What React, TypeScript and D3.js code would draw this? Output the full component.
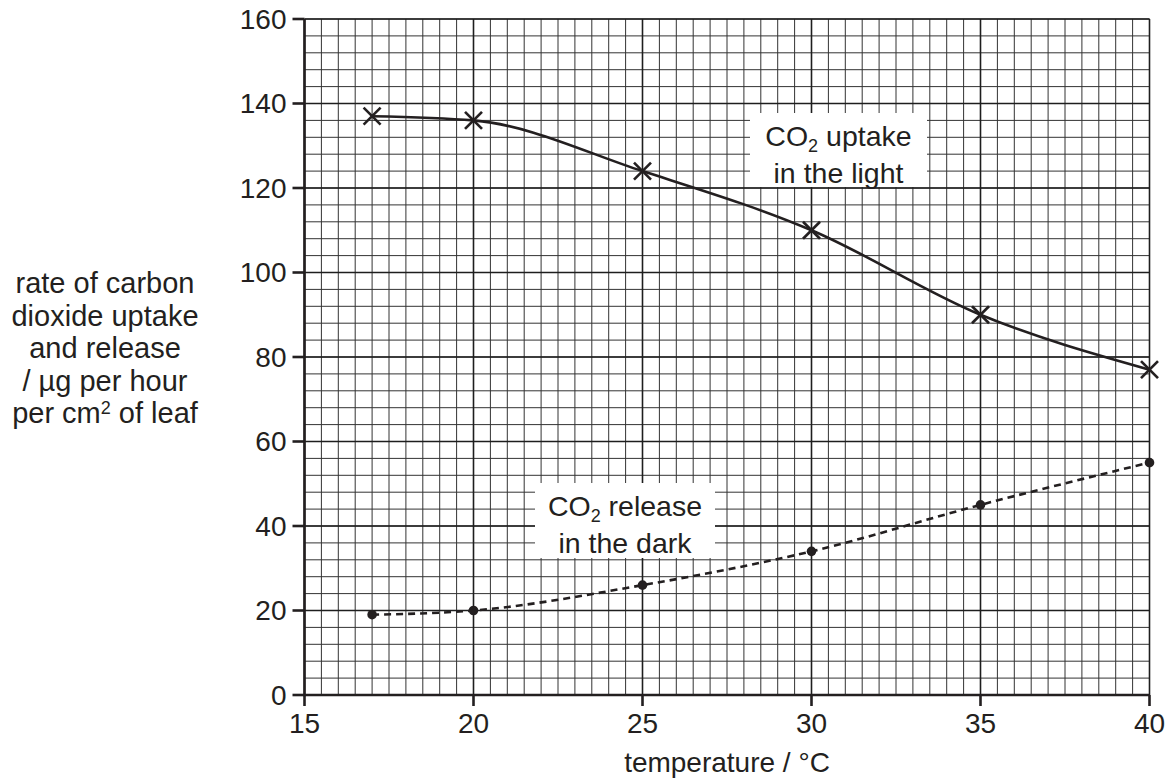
import React from "react";
import * as d3 from "d3";

const temperatures = [17, 20, 25, 30, 35, 40];
const uptakeLight = [137, 136, 124, 110, 90, 77];
const releaseDark = [19, 20, 26, 34, 45, 55];
const xTicks = [15, 20, 25, 30, 35, 40];
const yTicks = [0, 20, 40, 60, 80, 100, 120, 140, 160];
const yTitleLines = ["rate of carbon", "dioxide uptake", "and release", "/ \u00b5g per hour"];

const W = 1175;
const H = 784;
const INK = "#231f20";
const FONT = "'Liberation Sans', Arial, sans-serif";

export default function App() {
  const x = d3.scaleLinear().domain([15, 40]).range([304.5, 1149.5]);
  const y = d3.scaleLinear().domain([0, 160]).range([695, 19]);

  const minorX = d3.range(15, 40.001, 0.5);
  const minorY = d3.range(0, 160.001, 4);

  const lineGen = d3
    .line<number>()
    .x((_, i) => x(temperatures[i]))
    .y((d) => y(d))
    .curve(d3.curveMonotoneX);

  const lightPath = lineGen(uptakeLight) || "";
  const darkPath = lineGen(releaseDark) || "";

  const [x0, x1] = x.range();
  const [y0, y1] = y.range();
  const cs = 8.5;

  return (
    <svg
      width={W}
      height={H}
      viewBox={`0 0 ${W} ${H}`}
      style={{ position: "absolute", left: 0, top: 0, background: "#fff" }}
      fontFamily={FONT}
    >
      <rect x={0} y={0} width={W} height={H} fill="#fff" />
      {/* minor grid */}
      <g stroke="#333" strokeWidth={1}>
        {minorX.map((v) => (
          <line key={"mx" + v} x1={x(v)} x2={x(v)} y1={y0} y2={y1} />
        ))}
        {minorY.map((v) => (
          <line key={"my" + v} x1={x0} x2={x1} y1={y(v)} y2={y(v)} />
        ))}
      </g>
      {/* major grid */}
      <g stroke="#1e1e1e" strokeWidth={1.6}>
        {xTicks.map((v) => (
          <line key={"Mx" + v} x1={x(v)} x2={x(v)} y1={y0} y2={y1} />
        ))}
        {yTicks.map((v) => (
          <line key={"My" + v} x1={x0} x2={x1} y1={y(v)} y2={y(v)} />
        ))}
      </g>

      {/* label boxes */}
      <rect x={750} y={113} width={177} height={74} fill="#fff" />
      <rect x={535} y={483} width={180} height={75} fill="#fff" />

      {/* axes */}
      <g stroke={INK} strokeWidth={2.6}>
        <line x1={x0} x2={x0} y1={y0 + 1.3} y2={y1} />
        <line x1={x0} x2={x1} y1={y0} y2={y0} />
        {yTicks.map((v) => (
          <line key={"yt" + v} x1={x0 - 12} x2={x0} y1={y(v)} y2={y(v)} />
        ))}
        {xTicks.map((v) => (
          <line key={"xt" + v} x1={x(v)} x2={x(v)} y1={y0} y2={y0 + 11} />
        ))}
      </g>

      {/* tick labels */}
      <g fill={INK} fontSize={28}>
        {yTicks.map((v) => (
          <text key={"yl" + v} x={x0 - 18} y={y(v)} textAnchor="end" dominantBaseline="central">
            {v}
          </text>
        ))}
        {xTicks.map((v) => (
          <text key={"xl" + v} x={x(v)} y={733} textAnchor="middle">
            {v}
          </text>
        ))}
      </g>

      {/* axis titles */}
      <text x={727} y={772} textAnchor="middle" fontSize={28} fill={INK}>
        temperature / °C
      </text>
      <g fill={INK} fontSize={29} textAnchor="middle">
        {yTitleLines.map((t, i) => (
          <text key={t} x={105} y={293 + i * 32.5}>
            {t}
          </text>
        ))}
        <text x={105} y={293 + 4 * 32.5}>
          per cm<tspan fontSize={18} dy={-9}>2</tspan>
          <tspan dy={9}> of leaf</tspan>
        </text>
      </g>

      {/* series */}
      <path d={lightPath} fill="none" stroke={INK} strokeWidth={2.6} />
      <path d={darkPath} fill="none" stroke={INK} strokeWidth={2.6} strokeDasharray="7 5" />
      <g stroke={INK} strokeWidth={2.6}>
        {uptakeLight.map((v, i) => (
          <g key={"c" + i}>
            <line x1={x(temperatures[i]) - cs} x2={x(temperatures[i]) + cs} y1={y(v) - cs} y2={y(v) + cs} />
            <line x1={x(temperatures[i]) - cs} x2={x(temperatures[i]) + cs} y1={y(v) + cs} y2={y(v) - cs} />
          </g>
        ))}
      </g>
      <g fill={INK}>
        {releaseDark.map((v, i) => (
          <circle key={"d" + i} cx={x(temperatures[i])} cy={y(v)} r={4.8} />
        ))}
      </g>

      {/* series labels */}
      <g fill={INK} fontSize={28.5} textAnchor="middle">
        <text x={838.5} y={146}>
          CO<tspan fontSize={18} dy={6}>2</tspan>
          <tspan dy={-6}> uptake</tspan>
        </text>
        <text x={838.5} y={183}>in the light</text>
        <text x={625} y={516}>
          CO<tspan fontSize={18} dy={6}>2</tspan>
          <tspan dy={-6}> release</tspan>
        </text>
        <text x={625} y={553}>in the dark</text>
      </g>
    </svg>
  );
}
